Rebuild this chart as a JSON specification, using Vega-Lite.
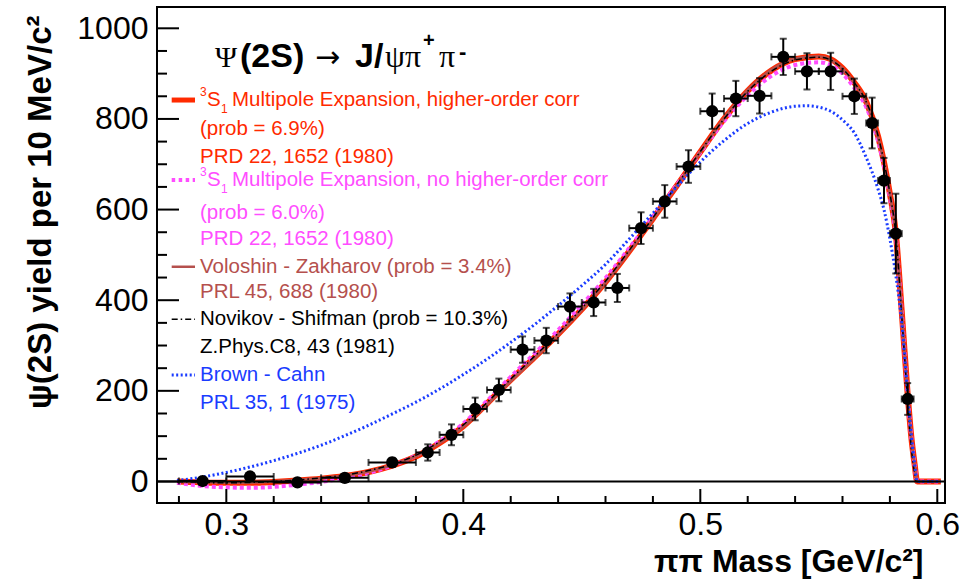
{
  "$schema": "https://vega.github.io/schema/vega-lite/v6.json",
  "width": 788,
  "height": 496,
  "autosize": {"type": "none"},
  "padding": {"left": 157, "top": 7, "right": 33, "bottom": 83},
  "background": "white",
  "config": {"view": {"stroke": "black", "strokeWidth": 2}, "font": "Liberation Sans"},
  "datasets": {
    "xmajor": [{"t": 0.3}, {"t": 0.4}, {"t": 0.5}, {"t": 0.6}],
    "xminor": [{"t": 0.28}, {"t": 0.32}, {"t": 0.34}, {"t": 0.36}, {"t": 0.38}, {"t": 0.42}, {"t": 0.44}, {"t": 0.46}, {"t": 0.48}, {"t": 0.52}, {"t": 0.54}, {"t": 0.56}, {"t": 0.58}],
    "ymajor": [{"t": 0}, {"t": 200}, {"t": 400}, {"t": 600}, {"t": 800}, {"t": 1000}],
    "yminor": [{"t": 50}, {"t": 100}, {"t": 150}, {"t": 250}, {"t": 300}, {"t": 350}, {"t": 450}, {"t": 500}, {"t": 550}, {"t": 650}, {"t": 700}, {"t": 750}, {"t": 850}, {"t": 900}, {"t": 950}],
    "points": [
      {"x": 0.29, "y": 1, "ex": 0.01, "ey": 5},
      {"x": 0.31, "y": 11, "ex": 0.01, "ey": 6},
      {"x": 0.33, "y": -2, "ex": 0.01, "ey": 6},
      {"x": 0.35, "y": 8, "ex": 0.01, "ey": 8},
      {"x": 0.37, "y": 42, "ex": 0.01, "ey": 10},
      {"x": 0.385, "y": 64, "ex": 0.005, "ey": 18},
      {"x": 0.395, "y": 103, "ex": 0.005, "ey": 23},
      {"x": 0.405, "y": 160, "ex": 0.005, "ey": 25},
      {"x": 0.415, "y": 202, "ex": 0.005, "ey": 25},
      {"x": 0.425, "y": 291, "ex": 0.005, "ey": 29},
      {"x": 0.435, "y": 311, "ex": 0.005, "ey": 28},
      {"x": 0.445, "y": 386, "ex": 0.005, "ey": 29},
      {"x": 0.455, "y": 395, "ex": 0.005, "ey": 30},
      {"x": 0.465, "y": 427, "ex": 0.005, "ey": 31},
      {"x": 0.475, "y": 559, "ex": 0.005, "ey": 35},
      {"x": 0.485, "y": 618, "ex": 0.005, "ey": 36},
      {"x": 0.495, "y": 695, "ex": 0.005, "ey": 36},
      {"x": 0.505, "y": 817, "ex": 0.005, "ey": 39},
      {"x": 0.515, "y": 845, "ex": 0.005, "ey": 39},
      {"x": 0.525, "y": 851, "ex": 0.005, "ey": 39},
      {"x": 0.535, "y": 937, "ex": 0.005, "ey": 40},
      {"x": 0.545, "y": 905, "ex": 0.005, "ey": 40},
      {"x": 0.555, "y": 905, "ex": 0.005, "ey": 41},
      {"x": 0.565, "y": 850, "ex": 0.005, "ey": 39},
      {"x": 0.5725, "y": 791, "ex": 0.0025, "ey": 56},
      {"x": 0.5775, "y": 664, "ex": 0.0025, "ey": 50},
      {"x": 0.5825, "y": 547, "ex": 0.0025, "ey": 88},
      {"x": 0.5875, "y": 182, "ex": 0.0025, "ey": 35}
    ],
    "curves": [
      {"m": "hoc", "x": 0.2792, "y": 0}, {"m": "hoc", "x": 0.285, "y": -1}, {"m": "hoc", "x": 0.29, "y": -2}, {"m": "hoc", "x": 0.30, "y": -3},
      {"m": "hoc", "x": 0.31, "y": -3}, {"m": "hoc", "x": 0.32, "y": -1}, {"m": "hoc", "x": 0.33, "y": 2}, {"m": "hoc", "x": 0.34, "y": 6},
      {"m": "hoc", "x": 0.35, "y": 12}, {"m": "hoc", "x": 0.36, "y": 21}, {"m": "hoc", "x": 0.37, "y": 35}, {"m": "hoc", "x": 0.38, "y": 55},
      {"m": "hoc", "x": 0.39, "y": 85}, {"m": "hoc", "x": 0.40, "y": 122}, {"m": "hoc", "x": 0.41, "y": 172}, {"m": "hoc", "x": 0.42, "y": 224},
      {"m": "hoc", "x": 0.43, "y": 274}, {"m": "hoc", "x": 0.44, "y": 325}, {"m": "hoc", "x": 0.45, "y": 380}, {"m": "hoc", "x": 0.46, "y": 440},
      {"m": "hoc", "x": 0.47, "y": 508}, {"m": "hoc", "x": 0.48, "y": 580}, {"m": "hoc", "x": 0.49, "y": 652}, {"m": "hoc", "x": 0.50, "y": 727},
      {"m": "hoc", "x": 0.51, "y": 800}, {"m": "hoc", "x": 0.52, "y": 862}, {"m": "hoc", "x": 0.53, "y": 907}, {"m": "hoc", "x": 0.54, "y": 932},
      {"m": "hoc", "x": 0.55, "y": 938}, {"m": "hoc", "x": 0.555, "y": 932}, {"m": "hoc", "x": 0.56, "y": 912}, {"m": "hoc", "x": 0.565, "y": 880},
      {"m": "hoc", "x": 0.57, "y": 838}, {"m": "hoc", "x": 0.575, "y": 762}, {"m": "hoc", "x": 0.5775, "y": 705}, {"m": "hoc", "x": 0.58, "y": 635},
      {"m": "hoc", "x": 0.5825, "y": 548}, {"m": "hoc", "x": 0.585, "y": 375}, {"m": "hoc", "x": 0.5875, "y": 192}, {"m": "hoc", "x": 0.589, "y": 100},
      {"m": "hoc", "x": 0.5905, "y": 35}, {"m": "hoc", "x": 0.5915, "y": 0}, {"m": "hoc", "x": 0.6015, "y": 0},

      {"m": "nohoc", "x": 0.2792, "y": -3}, {"m": "nohoc", "x": 0.285, "y": -7}, {"m": "nohoc", "x": 0.29, "y": -10}, {"m": "nohoc", "x": 0.30, "y": -13},
      {"m": "nohoc", "x": 0.31, "y": -14}, {"m": "nohoc", "x": 0.32, "y": -12}, {"m": "nohoc", "x": 0.33, "y": -7}, {"m": "nohoc", "x": 0.34, "y": -1},
      {"m": "nohoc", "x": 0.35, "y": 8}, {"m": "nohoc", "x": 0.36, "y": 19}, {"m": "nohoc", "x": 0.37, "y": 35}, {"m": "nohoc", "x": 0.38, "y": 57},
      {"m": "nohoc", "x": 0.39, "y": 89}, {"m": "nohoc", "x": 0.40, "y": 128}, {"m": "nohoc", "x": 0.41, "y": 178}, {"m": "nohoc", "x": 0.42, "y": 231},
      {"m": "nohoc", "x": 0.43, "y": 282}, {"m": "nohoc", "x": 0.44, "y": 334}, {"m": "nohoc", "x": 0.45, "y": 390}, {"m": "nohoc", "x": 0.46, "y": 449},
      {"m": "nohoc", "x": 0.47, "y": 515}, {"m": "nohoc", "x": 0.48, "y": 584}, {"m": "nohoc", "x": 0.49, "y": 654}, {"m": "nohoc", "x": 0.50, "y": 726},
      {"m": "nohoc", "x": 0.51, "y": 795}, {"m": "nohoc", "x": 0.52, "y": 852}, {"m": "nohoc", "x": 0.53, "y": 895}, {"m": "nohoc", "x": 0.54, "y": 919},
      {"m": "nohoc", "x": 0.55, "y": 925}, {"m": "nohoc", "x": 0.555, "y": 919}, {"m": "nohoc", "x": 0.56, "y": 900}, {"m": "nohoc", "x": 0.565, "y": 868},
      {"m": "nohoc", "x": 0.57, "y": 826}, {"m": "nohoc", "x": 0.575, "y": 752}, {"m": "nohoc", "x": 0.5775, "y": 696}, {"m": "nohoc", "x": 0.58, "y": 627},
      {"m": "nohoc", "x": 0.5825, "y": 541}, {"m": "nohoc", "x": 0.585, "y": 372}, {"m": "nohoc", "x": 0.5875, "y": 190}, {"m": "nohoc", "x": 0.589, "y": 98},
      {"m": "nohoc", "x": 0.5905, "y": 34}, {"m": "nohoc", "x": 0.5915, "y": 0}, {"m": "nohoc", "x": 0.6015, "y": 0},

      {"m": "vz", "x": 0.2792, "y": 0}, {"m": "vz", "x": 0.285, "y": -1}, {"m": "vz", "x": 0.29, "y": -1}, {"m": "vz", "x": 0.30, "y": -2},
      {"m": "vz", "x": 0.31, "y": -2}, {"m": "vz", "x": 0.32, "y": 0}, {"m": "vz", "x": 0.33, "y": 3}, {"m": "vz", "x": 0.34, "y": 7},
      {"m": "vz", "x": 0.35, "y": 13}, {"m": "vz", "x": 0.36, "y": 22}, {"m": "vz", "x": 0.37, "y": 36}, {"m": "vz", "x": 0.38, "y": 56},
      {"m": "vz", "x": 0.39, "y": 85}, {"m": "vz", "x": 0.40, "y": 121}, {"m": "vz", "x": 0.41, "y": 170}, {"m": "vz", "x": 0.42, "y": 222},
      {"m": "vz", "x": 0.43, "y": 272}, {"m": "vz", "x": 0.44, "y": 324}, {"m": "vz", "x": 0.45, "y": 379}, {"m": "vz", "x": 0.46, "y": 439},
      {"m": "vz", "x": 0.47, "y": 507}, {"m": "vz", "x": 0.48, "y": 579}, {"m": "vz", "x": 0.49, "y": 652}, {"m": "vz", "x": 0.50, "y": 727},
      {"m": "vz", "x": 0.51, "y": 801}, {"m": "vz", "x": 0.52, "y": 863}, {"m": "vz", "x": 0.53, "y": 908}, {"m": "vz", "x": 0.54, "y": 933},
      {"m": "vz", "x": 0.55, "y": 938}, {"m": "vz", "x": 0.555, "y": 931}, {"m": "vz", "x": 0.56, "y": 911}, {"m": "vz", "x": 0.565, "y": 879},
      {"m": "vz", "x": 0.57, "y": 836}, {"m": "vz", "x": 0.575, "y": 760}, {"m": "vz", "x": 0.5775, "y": 703}, {"m": "vz", "x": 0.58, "y": 633},
      {"m": "vz", "x": 0.5825, "y": 546}, {"m": "vz", "x": 0.585, "y": 373}, {"m": "vz", "x": 0.5875, "y": 190}, {"m": "vz", "x": 0.589, "y": 98},
      {"m": "vz", "x": 0.5905, "y": 33}, {"m": "vz", "x": 0.5915, "y": 0}, {"m": "vz", "x": 0.6015, "y": 0},

      {"m": "ns", "x": 0.2792, "y": 0}, {"m": "ns", "x": 0.285, "y": -1}, {"m": "ns", "x": 0.29, "y": -2}, {"m": "ns", "x": 0.30, "y": -3},
      {"m": "ns", "x": 0.31, "y": -2}, {"m": "ns", "x": 0.32, "y": 0}, {"m": "ns", "x": 0.33, "y": 3}, {"m": "ns", "x": 0.34, "y": 8},
      {"m": "ns", "x": 0.35, "y": 14}, {"m": "ns", "x": 0.36, "y": 24}, {"m": "ns", "x": 0.37, "y": 38}, {"m": "ns", "x": 0.38, "y": 58},
      {"m": "ns", "x": 0.39, "y": 88}, {"m": "ns", "x": 0.40, "y": 125}, {"m": "ns", "x": 0.41, "y": 174}, {"m": "ns", "x": 0.42, "y": 226},
      {"m": "ns", "x": 0.43, "y": 276}, {"m": "ns", "x": 0.44, "y": 327}, {"m": "ns", "x": 0.45, "y": 382}, {"m": "ns", "x": 0.46, "y": 442},
      {"m": "ns", "x": 0.47, "y": 510}, {"m": "ns", "x": 0.48, "y": 582}, {"m": "ns", "x": 0.49, "y": 654}, {"m": "ns", "x": 0.50, "y": 728},
      {"m": "ns", "x": 0.51, "y": 800}, {"m": "ns", "x": 0.52, "y": 861}, {"m": "ns", "x": 0.53, "y": 905}, {"m": "ns", "x": 0.54, "y": 930},
      {"m": "ns", "x": 0.55, "y": 936}, {"m": "ns", "x": 0.555, "y": 930}, {"m": "ns", "x": 0.56, "y": 911}, {"m": "ns", "x": 0.565, "y": 880},
      {"m": "ns", "x": 0.57, "y": 838}, {"m": "ns", "x": 0.575, "y": 763}, {"m": "ns", "x": 0.5775, "y": 706}, {"m": "ns", "x": 0.58, "y": 636},
      {"m": "ns", "x": 0.5825, "y": 545}, {"m": "ns", "x": 0.585, "y": 365}, {"m": "ns", "x": 0.5875, "y": 178}, {"m": "ns", "x": 0.589, "y": 75},
      {"m": "ns", "x": 0.5905, "y": 15}, {"m": "ns", "x": 0.591, "y": 0}, {"m": "ns", "x": 0.6015, "y": 0},

      {"m": "bc", "x": 0.2792, "y": 2}, {"m": "bc", "x": 0.285, "y": 6}, {"m": "bc", "x": 0.29, "y": 10}, {"m": "bc", "x": 0.30, "y": 20},
      {"m": "bc", "x": 0.31, "y": 32}, {"m": "bc", "x": 0.32, "y": 46}, {"m": "bc", "x": 0.33, "y": 62}, {"m": "bc", "x": 0.34, "y": 80},
      {"m": "bc", "x": 0.35, "y": 101}, {"m": "bc", "x": 0.36, "y": 124}, {"m": "bc", "x": 0.37, "y": 149}, {"m": "bc", "x": 0.38, "y": 175},
      {"m": "bc", "x": 0.39, "y": 204}, {"m": "bc", "x": 0.40, "y": 236}, {"m": "bc", "x": 0.41, "y": 270}, {"m": "bc", "x": 0.42, "y": 307},
      {"m": "bc", "x": 0.43, "y": 346}, {"m": "bc", "x": 0.44, "y": 388}, {"m": "bc", "x": 0.45, "y": 432}, {"m": "bc", "x": 0.46, "y": 479},
      {"m": "bc", "x": 0.47, "y": 535}, {"m": "bc", "x": 0.48, "y": 592}, {"m": "bc", "x": 0.49, "y": 650}, {"m": "bc", "x": 0.50, "y": 705},
      {"m": "bc", "x": 0.51, "y": 752}, {"m": "bc", "x": 0.52, "y": 790}, {"m": "bc", "x": 0.53, "y": 815}, {"m": "bc", "x": 0.54, "y": 828},
      {"m": "bc", "x": 0.545, "y": 829}, {"m": "bc", "x": 0.55, "y": 826}, {"m": "bc", "x": 0.555, "y": 817}, {"m": "bc", "x": 0.56, "y": 798},
      {"m": "bc", "x": 0.565, "y": 769}, {"m": "bc", "x": 0.57, "y": 715}, {"m": "bc", "x": 0.575, "y": 645}, {"m": "bc", "x": 0.5775, "y": 600},
      {"m": "bc", "x": 0.58, "y": 535}, {"m": "bc", "x": 0.5825, "y": 455}, {"m": "bc", "x": 0.585, "y": 350}, {"m": "bc", "x": 0.5875, "y": 195},
      {"m": "bc", "x": 0.589, "y": 105}, {"m": "bc", "x": 0.5905, "y": 35}, {"m": "bc", "x": 0.5915, "y": 0}, {"m": "bc", "x": 0.6015, "y": 0}
    ]
  },
  "resolve": {"axis": {"x": "independent", "y": "independent"}},
  "layer": [
    {
      "data": {"name": "curves"},
      "transform": [{"filter": "datum.m == 'hoc'"}],
      "mark": {"type": "line", "color": "#ff2a00", "strokeWidth": 6, "interpolate": "monotone"},
      "encoding": {
        "x": {"field": "x", "type": "quantitative", "scale": {"domain": [0.27075, 0.60325], "nice": false, "zero": false},
          "axis": {"orient": "bottom", "values": [0.3, 0.4, 0.5, 0.6], "format": ".1f", "ticks": false, "grid": false,
            "domain": false, "labelFont": "Liberation Sans", "labelFontSize": 32, "labelColor": "black", "labelPadding": 6,
            "labelFlush": false, "labelOverlap": false, "labelBound": false,
            "title": "ππ Mass [GeV/c²]", "titleFont": "Liberation Sans", "titleFontSize": 32, "titleFontWeight": "bold", "titleColor": "black",
            "titleAnchor": "end", "titleAlign": "right", "titleBaseline": "alphabetic", "titleX": 766, "titleY": 68, "titleAngle": 0}},
        "y": {"field": "y", "type": "quantitative", "scale": {"domain": [-47.5, 1047], "nice": false, "zero": false},
          "axis": {"orient": "left", "values": [0, 200, 400, 600, 800, 1000], "format": "d", "ticks": false, "grid": false,
            "domain": false, "labelFont": "Liberation Sans", "labelFontSize": 32, "labelColor": "black", "labelPadding": 9,
            "labelFlush": false, "labelOverlap": false, "labelBound": false,
            "title": "ψ(2S) yield per 10 MeV/c²", "titleFont": "Liberation Sans", "titleFontSize": 33, "titleFontWeight": "bold", "titleColor": "black",
            "titleAngle": -90, "titleAnchor": "end", "titleAlign": "right", "titleBaseline": "alphabetic", "titleX": -107, "titleY": 8}}
      }
    },
    {
      "data": {"name": "curves"},
      "transform": [{"filter": "datum.m == 'nohoc'"}],
      "mark": {"type": "line", "color": "#ff4dff", "strokeWidth": 4, "strokeDash": [4, 3], "interpolate": "monotone"},
      "encoding": {"x": {"field": "x", "type": "quantitative", "axis": null}, "y": {"field": "y", "type": "quantitative", "axis": null}}
    },
    {
      "data": {"name": "curves"},
      "transform": [{"filter": "datum.m == 'vz'"}],
      "mark": {"type": "line", "color": "#b5504d", "strokeWidth": 3, "interpolate": "monotone"},
      "encoding": {"x": {"field": "x", "type": "quantitative", "axis": null}, "y": {"field": "y", "type": "quantitative", "axis": null}}
    },
    {
      "data": {"name": "curves"},
      "transform": [{"filter": "datum.m == 'ns'"}],
      "mark": {"type": "line", "color": "black", "strokeWidth": 1.5, "strokeDash": [6, 3, 1.5, 3], "interpolate": "monotone"},
      "encoding": {"x": {"field": "x", "type": "quantitative", "axis": null}, "y": {"field": "y", "type": "quantitative", "axis": null}}
    },
    {
      "data": {"name": "curves"},
      "transform": [{"filter": "datum.m == 'bc'"}],
      "mark": {"type": "line", "color": "#1a3cff", "strokeWidth": 3, "strokeDash": [2, 2.5], "interpolate": "monotone"},
      "encoding": {"x": {"field": "x", "type": "quantitative", "axis": null}, "y": {"field": "y", "type": "quantitative", "axis": null}}
    },
    {
      "data": {"values": [{}]},
      "mark": {"type": "rule", "color": "black", "strokeWidth": 2},
      "encoding": {"y": {"datum": 0, "axis": null}}
    },
    {
      "data": {"name": "xmajor"},
      "mark": {"type": "rule", "color": "black", "strokeWidth": 2},
      "encoding": {"x": {"field": "t", "type": "quantitative", "axis": null}, "y": {"datum": -47.5, "axis": null}, "y2": {"datum": -16.6}}
    },
    {
      "data": {"name": "xminor"},
      "mark": {"type": "rule", "color": "black", "strokeWidth": 2},
      "encoding": {"x": {"field": "t", "type": "quantitative", "axis": null}, "y": {"datum": -47.5, "axis": null}, "y2": {"datum": -32.05}}
    },
    {
      "data": {"name": "ymajor"},
      "mark": {"type": "rule", "color": "black", "strokeWidth": 2},
      "encoding": {"y": {"field": "t", "type": "quantitative", "axis": null}, "x": {"datum": 0.27075, "axis": null}, "x2": {"datum": 0.28003}}
    },
    {
      "data": {"name": "yminor"},
      "mark": {"type": "rule", "color": "black", "strokeWidth": 2},
      "encoding": {"y": {"field": "t", "type": "quantitative", "axis": null}, "x": {"datum": 0.27075, "axis": null}, "x2": {"datum": 0.27497}}
    },
    {
      "data": {"name": "points"},
      "mark": {"type": "errorbar", "ticks": true, "size": 7, "thickness": 2, "color": "black"},
      "encoding": {"x": {"field": "x", "type": "quantitative", "axis": null}, "y": {"field": "y", "type": "quantitative", "axis": null}, "yError": {"field": "ey"}}
    },
    {
      "data": {"name": "points"},
      "mark": {"type": "errorbar", "ticks": true, "size": 7, "thickness": 2, "color": "black"},
      "encoding": {"x": {"field": "x", "type": "quantitative", "axis": null}, "xError": {"field": "ex"}, "y": {"field": "y", "type": "quantitative", "axis": null}}
    },
    {
      "data": {"name": "points"},
      "mark": {"type": "point", "shape": "circle", "filled": true, "size": 150, "color": "black", "opacity": 1},
      "encoding": {"x": {"field": "x", "type": "quantitative", "axis": null}, "y": {"field": "y", "type": "quantitative", "axis": null}}
    },
    {"data": {"values": [{}]}, "mark": {"type": "text", "align": "left", "baseline": "alphabetic", "font": "Liberation Serif", "fontSize": 30, "color": "black", "dx": 0},
      "encoding": {"x": {"datum": 0.29522, "axis": null}, "y": {"datum": 914.6, "axis": null}, "text": {"value": "Ψ"}}},
    {"data": {"values": [{}]}, "mark": {"type": "text", "align": "left", "baseline": "alphabetic", "font": "Liberation Sans", "fontWeight": "bold", "fontSize": 34, "color": "black", "dx": 25},
      "encoding": {"x": {"datum": 0.29522, "axis": null}, "y": {"datum": 914.6, "axis": null}, "text": {"value": "(2S)"}}},
    {"data": {"values": [{}]}, "mark": {"type": "text", "align": "left", "baseline": "alphabetic", "font": "DejaVu Sans", "fontSize": 30, "color": "black", "dx": 100},
      "encoding": {"x": {"datum": 0.29522, "axis": null}, "y": {"datum": 914.6, "axis": null}, "text": {"value": "→"}}},
    {"data": {"values": [{}]}, "mark": {"type": "text", "align": "left", "baseline": "alphabetic", "font": "Liberation Sans", "fontWeight": "bold", "fontSize": 34, "color": "black", "dx": 140},
      "encoding": {"x": {"datum": 0.29522, "axis": null}, "y": {"datum": 914.6, "axis": null}, "text": {"value": "J/"}}},
    {"data": {"values": [{}]}, "mark": {"type": "text", "align": "left", "baseline": "alphabetic", "font": "Liberation Serif", "fontSize": 32, "color": "black", "dx": 170},
      "encoding": {"x": {"datum": 0.29522, "axis": null}, "y": {"datum": 914.6, "axis": null}, "text": {"value": "ψπ"}}},
    {"data": {"values": [{}]}, "mark": {"type": "text", "align": "left", "baseline": "alphabetic", "font": "Liberation Sans", "fontWeight": "bold", "fontSize": 20, "color": "black", "dx": 208, "dy": -20},
      "encoding": {"x": {"datum": 0.29522, "axis": null}, "y": {"datum": 914.6, "axis": null}, "text": {"value": "+"}}},
    {"data": {"values": [{}]}, "mark": {"type": "text", "align": "left", "baseline": "alphabetic", "font": "Liberation Serif", "fontSize": 32, "color": "black", "dx": 224},
      "encoding": {"x": {"datum": 0.29522, "axis": null}, "y": {"datum": 914.6, "axis": null}, "text": {"value": "π"}}},
    {"data": {"values": [{}]}, "mark": {"type": "text", "align": "left", "baseline": "alphabetic", "font": "Liberation Sans", "fontWeight": "bold", "fontSize": 22, "color": "black", "dx": 244, "dy": -8},
      "encoding": {"x": {"datum": 0.29522, "axis": null}, "y": {"datum": 914.6, "axis": null}, "text": {"value": "-"}}},

    {"data": {"values": [{}]}, "mark": {"type": "rule", "color": "#ff2a00", "strokeWidth": 5},
      "encoding": {"x": {"datum": 0.27695, "axis": null}, "x2": {"datum": 0.28678}, "y": {"datum": 841.7, "axis": null}}},
    {"data": {"values": [{}]}, "mark": {"type": "rule", "color": "#ff4dff", "strokeWidth": 4, "strokeDash": [3.5, 3.5]},
      "encoding": {"x": {"datum": 0.27695, "axis": null}, "x2": {"datum": 0.28678}, "y": {"datum": 665.2, "axis": null}}},
    {"data": {"values": [{}]}, "mark": {"type": "rule", "color": "#b5504d", "strokeWidth": 2.5},
      "encoding": {"x": {"datum": 0.27695, "axis": null}, "x2": {"datum": 0.28678}, "y": {"datum": 473.8, "axis": null}}},
    {"data": {"values": [{}]}, "mark": {"type": "rule", "color": "black", "strokeWidth": 1.5, "strokeDash": [6, 3, 1.5, 3]},
      "encoding": {"x": {"datum": 0.27695, "axis": null}, "x2": {"datum": 0.28678}, "y": {"datum": 357.7, "axis": null}}},
    {"data": {"values": [{}]}, "mark": {"type": "rule", "color": "#1a3cff", "strokeWidth": 3, "strokeDash": [2, 2.5]},
      "encoding": {"x": {"datum": 0.27695, "axis": null}, "x2": {"datum": 0.28678}, "y": {"datum": 234.7, "axis": null}}},

    {"data": {"values": [{}]}, "mark": {"type": "text", "align": "left", "baseline": "middle", "fontSize": 12, "color": "#ff2a00", "dx": 0, "dy": -8},
      "encoding": {"x": {"datum": 0.28889, "axis": null}, "y": {"datum": 841.7, "axis": null}, "text": {"value": "3"}}},
    {"data": {"values": [{}]}, "mark": {"type": "text", "align": "left", "baseline": "middle", "fontSize": 20.5, "color": "#ff2a00", "dx": 7},
      "encoding": {"x": {"datum": 0.28889, "axis": null}, "y": {"datum": 841.7, "axis": null}, "text": {"value": "S"}}},
    {"data": {"values": [{}]}, "mark": {"type": "text", "align": "left", "baseline": "middle", "fontSize": 12, "color": "#ff2a00", "dx": 21, "dy": 9},
      "encoding": {"x": {"datum": 0.28889, "axis": null}, "y": {"datum": 841.7, "axis": null}, "text": {"value": "1"}}},
    {"data": {"values": [{}]}, "mark": {"type": "text", "align": "left", "baseline": "middle", "fontSize": 20.5, "color": "#ff2a00", "dx": 32},
      "encoding": {"x": {"datum": 0.28889, "axis": null}, "y": {"datum": 841.7, "axis": null}, "text": {"value": "Multipole Expansion, higher-order corr"}}},
    {"data": {"values": [{}]}, "mark": {"type": "text", "align": "left", "baseline": "middle", "fontSize": 20.5, "color": "#ff2a00"},
      "encoding": {"x": {"datum": 0.28889, "axis": null}, "y": {"datum": 777.7, "axis": null}, "text": {"value": "(prob = 6.9%)"}}},
    {"data": {"values": [{}]}, "mark": {"type": "text", "align": "left", "baseline": "middle", "fontSize": 20.5, "color": "#ff2a00"},
      "encoding": {"x": {"datum": 0.28889, "axis": null}, "y": {"datum": 716.6, "axis": null}, "text": {"value": "PRD 22, 1652 (1980)"}}},

    {"data": {"values": [{}]}, "mark": {"type": "text", "align": "left", "baseline": "middle", "fontSize": 12, "color": "#ff4dff", "dx": 0, "dy": -8},
      "encoding": {"x": {"datum": 0.28889, "axis": null}, "y": {"datum": 665.2, "axis": null}, "text": {"value": "3"}}},
    {"data": {"values": [{}]}, "mark": {"type": "text", "align": "left", "baseline": "middle", "fontSize": 20.5, "color": "#ff4dff", "dx": 7},
      "encoding": {"x": {"datum": 0.28889, "axis": null}, "y": {"datum": 665.2, "axis": null}, "text": {"value": "S"}}},
    {"data": {"values": [{}]}, "mark": {"type": "text", "align": "left", "baseline": "middle", "fontSize": 12, "color": "#ff4dff", "dx": 21, "dy": 9},
      "encoding": {"x": {"datum": 0.28889, "axis": null}, "y": {"datum": 665.2, "axis": null}, "text": {"value": "1"}}},
    {"data": {"values": [{}]}, "mark": {"type": "text", "align": "left", "baseline": "middle", "fontSize": 20.5, "color": "#ff4dff", "dx": 32},
      "encoding": {"x": {"datum": 0.28889, "axis": null}, "y": {"datum": 665.2, "axis": null}, "text": {"value": "Multipole Expansion, no higher-order corr"}}},
    {"data": {"values": [{}]}, "mark": {"type": "text", "align": "left", "baseline": "middle", "fontSize": 20.5, "color": "#ff4dff"},
      "encoding": {"x": {"datum": 0.28889, "axis": null}, "y": {"datum": 593, "axis": null}, "text": {"value": "(prob = 6.0%)"}}},
    {"data": {"values": [{}]}, "mark": {"type": "text", "align": "left", "baseline": "middle", "fontSize": 20.5, "color": "#ff4dff"},
      "encoding": {"x": {"datum": 0.28889, "axis": null}, "y": {"datum": 534.3, "axis": null}, "text": {"value": "PRD 22, 1652 (1980)"}}},

    {"data": {"values": [{}]}, "mark": {"type": "text", "align": "left", "baseline": "middle", "fontSize": 20.5, "color": "#b5504d"},
      "encoding": {"x": {"datum": 0.28889, "axis": null}, "y": {"datum": 473.8, "axis": null}, "text": {"value": "Voloshin - Zakharov (prob = 3.4%)"}}},
    {"data": {"values": [{}]}, "mark": {"type": "text", "align": "left", "baseline": "middle", "fontSize": 20.5, "color": "#b5504d"},
      "encoding": {"x": {"datum": 0.28889, "axis": null}, "y": {"datum": 418.6, "axis": null}, "text": {"value": "PRL 45, 688 (1980)"}}},
    {"data": {"values": [{}]}, "mark": {"type": "text", "align": "left", "baseline": "middle", "fontSize": 20.5, "color": "black"},
      "encoding": {"x": {"datum": 0.28889, "axis": null}, "y": {"datum": 357.7, "axis": null}, "text": {"value": "Novikov - Shifman (prob = 10.3%)"}}},
    {"data": {"values": [{}]}, "mark": {"type": "text", "align": "left", "baseline": "middle", "fontSize": 20.5, "color": "black"},
      "encoding": {"x": {"datum": 0.28889, "axis": null}, "y": {"datum": 297.2, "axis": null}, "text": {"value": "Z.Phys.C8, 43 (1981)"}}},
    {"data": {"values": [{}]}, "mark": {"type": "text", "align": "left", "baseline": "middle", "fontSize": 20.5, "color": "#1a3cff"},
      "encoding": {"x": {"datum": 0.28889, "axis": null}, "y": {"datum": 234.7, "axis": null}, "text": {"value": "Brown - Cahn"}}},
    {"data": {"values": [{}]}, "mark": {"type": "text", "align": "left", "baseline": "middle", "fontSize": 20.5, "color": "#1a3cff"},
      "encoding": {"x": {"datum": 0.28889, "axis": null}, "y": {"datum": 173.6, "axis": null}, "text": {"value": "PRL 35, 1 (1975)"}}}
  ]
}
